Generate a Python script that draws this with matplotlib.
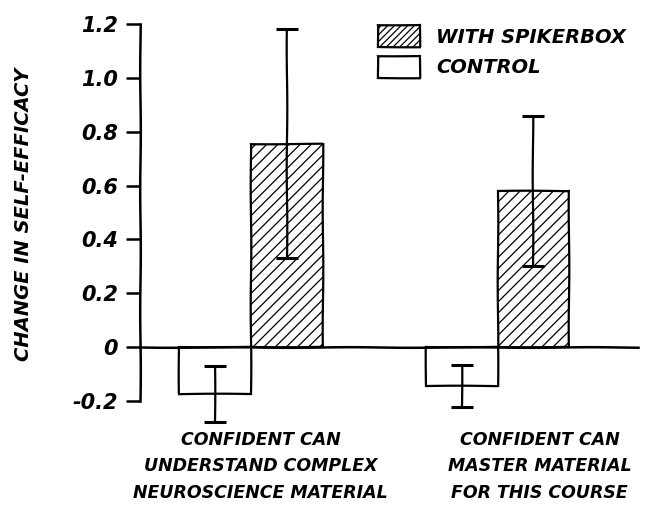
import matplotlib
matplotlib.use("Agg")
import matplotlib.pyplot as plt
from matplotlib.patches import Patch
import matplotlib.transforms as mtransforms

categories = ["Confident can\nUnderstand complex\nNeuroscience Material",
              "Confident can\nMaster material\nfor this course"]
series_names = ["With SpikerBox", "Control"]
control_means = [-0.175, -0.145]
control_err = [0.105, 0.077]
spiker_means = [0.755, 0.58]
spiker_err = [0.425, 0.28]
yticks = [-0.2, 0, 0.2, 0.4, 0.6, 0.8, 1.0, 1.2]
ytick_labels = ["-0.2", "0", "0.2", "0.4", "0.6", "0.8", "1.0", "1.2"]
ylabel = "Change in Self-Efficacy"

plt.xkcd(scale=0.3, length=120, randomness=1)
plt.rcParams["path.effects"] = []
plt.rcParams["font.family"] = ["DejaVu Sans"]
plt.rcParams["hatch.linewidth"] = 0.9

FONT = dict(family="DejaVu Sans", weight="bold", style="italic")

fig = plt.figure(figsize=(6.54, 5.13), dpi=100)
ax = fig.add_axes([0.214, 0.166, 0.762, 0.787])

w = 0.29
centers = [0, 1]
ax.bar([c - w for c in centers], control_means, width=w, align="edge",
       facecolor="white", edgecolor="black", linewidth=1.6, zorder=2)
ax.bar(centers, spiker_means, width=w, align="edge",
       facecolor="white", edgecolor="black", hatch="///", linewidth=1.6, zorder=2)
for xs, ms, es in [([c - w / 2 for c in centers], control_means, control_err),
                   ([c + w / 2 for c in centers], spiker_means, spiker_err)]:
    eb = ax.errorbar(xs, ms, yerr=es, fmt="none", ecolor="black", elinewidth=1.6,
                     capsize=8, capthick=2.2, zorder=3)
    for art in eb.lines[1] + eb.lines[2]:
        art.set_clip_on(False)

ax.set_xlim(-0.45, 1.57)
ax.set_ylim(-0.3, 1.2)
ax.spines["top"].set_visible(False)
ax.spines["right"].set_visible(False)
ax.spines["bottom"].set_position(("data", 0))
ax.spines["bottom"].set_linewidth(1.8)
ax.spines["left"].set_linewidth(1.8)
ax.spines["left"].set_bounds(-0.2, 1.2)
ax.set_xticks([])
ax.set_yticks(yticks)
ax.set_yticklabels(ytick_labels, fontsize=15, **FONT)
ax.tick_params(axis="y", direction="out", length=10, width=1.8, pad=6)

ax.set_ylabel(ylabel.upper(), fontsize=14, **FONT)
ax.yaxis.set_label_coords(-0.215, 0.53)

trans = mtransforms.blended_transform_factory(ax.transData, fig.transFigure)
label_x = [0.04, 1.17]
for x, lab in zip(label_x, categories):
    fig.text(0, 0, lab.upper(), transform=trans, ha="center", va="top",
             fontsize=12.5, linespacing=1.6, **FONT).set_position((x, 0.16))

handles = [Patch(facecolor="white", edgecolor="black", hatch="/////", linewidth=1.6),
           Patch(facecolor="white", edgecolor="black", linewidth=1.6)]
leg = ax.legend(handles, [s.upper() for s in series_names], loc="upper right",
                bbox_to_anchor=(1.01, 1.04), frameon=False,
                prop=dict(size=14, **FONT), handlelength=2.2, handleheight=1.3,
                labelspacing=0.5)

fig.savefig("out.png", dpi=100, facecolor="white")
